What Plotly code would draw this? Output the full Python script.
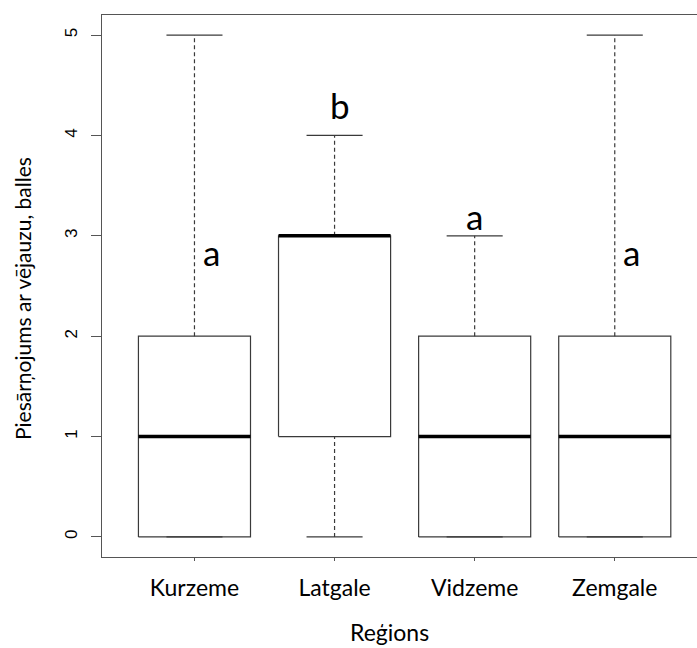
import plotly.graph_objects as go

# Box-plot summaries per region (whisker ends, quartiles, median)
regions = ["Kurzeme", "Latgale", "Vidzeme", "Zemgale"]
lower = [0, 0, 0, 0]
q1 = [0, 1, 0, 0]
median = [1, 3, 1, 1]
q3 = [2, 3, 2, 2]
upper = [5, 4, 3, 5]

# Significance-group letters shown above each box
group_letters = ["a", "b", "a", "a"]
letter_y = [2.84, 4.3, 3.2, 2.84]
letter_dx = [0.12, 0.04, 0.0, 0.12]

BOX_HALF = 0.4
CAP_HALF = 0.2
EDGE = "#3a3a3a"
FONT = "Lato"

fig = go.Figure()

for i, name in enumerate(regions):
    xc = i + 1
    # box outline
    fig.add_trace(go.Scatter(
        x=[xc - BOX_HALF, xc + BOX_HALF, xc + BOX_HALF, xc - BOX_HALF, xc - BOX_HALF],
        y=[q1[i], q1[i], q3[i], q3[i], q1[i]],
        mode="lines", line=dict(color=EDGE, width=1.2),
        hoverinfo="skip", showlegend=False))
    # dashed whiskers
    for a, b in ((q3[i], upper[i]), (lower[i], q1[i])):
        if b > a:
            fig.add_trace(go.Scatter(
                x=[xc, xc], y=[a, b], mode="lines",
                line=dict(color=EDGE, width=1.2, dash="4px,3px"),
                hoverinfo="skip", showlegend=False))
    # whisker caps
    for v in (lower[i], upper[i]):
        fig.add_trace(go.Scatter(
            x=[xc - CAP_HALF, xc + CAP_HALF], y=[v, v], mode="lines",
            line=dict(color=EDGE, width=1.2),
            hoverinfo="skip", showlegend=False))
    # thick median
    fig.add_trace(go.Scatter(
        x=[xc - BOX_HALF, xc + BOX_HALF], y=[median[i], median[i]],
        mode="lines", line=dict(color="black", width=3.5),
        hoverinfo="skip", showlegend=False))
    # group letter
    fig.add_annotation(
        x=xc + letter_dx[i], y=letter_y[i], xref="x", yref="y",
        text=group_letters[i], showarrow=False,
        font=dict(family=FONT, size=35, color="black"),
        xanchor="center", yanchor="middle")

# axis titles
fig.add_annotation(
    x=0, y=2.37, xref="paper", yref="y", xshift=-80,
    text="Piesārņojums ar vējauzu, balles", textangle=-90, showarrow=False,
    font=dict(family=FONT, size=21, color="black"),
    xanchor="center", yanchor="middle")
fig.add_annotation(
    x=2.389, y=0, xref="x", yref="paper", yshift=-75,
    text="Reģions", showarrow=False,
    font=dict(family=FONT, size=23, color="black"),
    xanchor="center", yanchor="middle")

fig.update_layout(
    template="none",
    width=697, height=648,
    margin=dict(l=102, r=0, t=15, b=91, autoexpand=False),
    paper_bgcolor="white", plot_bgcolor="white",
    showlegend=False,
    xaxis=dict(
        range=[0.34, 4.587], tickmode="array", automargin=False,
        tickvals=[1, 2, 3, 4], ticktext=regions,
        ticks="outside", ticklen=3, tickcolor="#555", tickwidth=1,
        showline=True, linecolor="#555", linewidth=1.3, mirror=True,
        showgrid=False, zeroline=False,
        tickfont=dict(family=FONT, size=23, color="black"),
        ticklabelstandoff=7),
    yaxis=dict(
        range=[-0.2, 5.2], tickmode="array", automargin=False,
        tickvals=[0, 1, 2, 3, 4, 5],
        ticks="outside", ticklen=10, tickcolor="#555", tickwidth=1,
        showline=True, linecolor="#555", linewidth=1.3, mirror=False,
        showgrid=False, zeroline=False, tickangle=-90,
        tickfont=dict(family="Liberation Sans", size=17, color="black"),
        ticklabelstandoff=7),
)

fig.write_html("out.html")
